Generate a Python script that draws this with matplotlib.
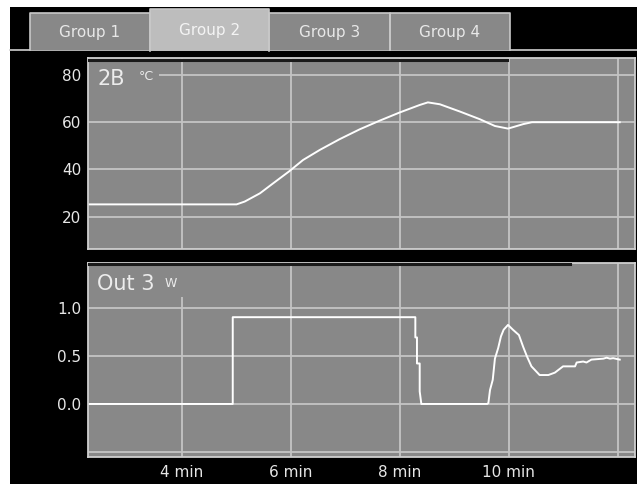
import numpy as np
import matplotlib.pyplot as plt
from matplotlib.patches import Rectangle

# Данные: температура (верхний график)
temp_time = [2.29, 5.01, 5.16, 5.44, 5.68, 5.97, 6.23, 6.54, 6.90, 7.27, 7.64, 8.00,
             8.37, 8.52, 8.74, 9.11, 9.47, 9.75, 9.99, 10.08, 10.27, 10.43, 12.04]
temp_vals = [25.2, 25.2, 26.4, 29.9, 34.1, 39.1, 44.0, 48.3, 52.8, 57.0, 60.7, 64.1,
             67.3, 68.4, 67.6, 64.5, 61.3, 58.4, 57.3, 57.9, 59.2, 60.0, 60.0]

# Данные: выход (нижний график)
out_time = [2.29, 4.94, 4.94, 8.29, 8.29, 8.32, 8.32, 8.37, 8.37, 8.40, 9.61,
            9.63, 9.66, 9.71, 9.75, 9.81, 9.86, 9.91, 9.99, 10.08, 10.19, 10.27,
            10.34, 10.42, 10.57, 10.73, 10.85, 11.00, 11.06, 11.22, 11.25, 11.37,
            11.43, 11.52, 11.74, 11.80, 11.86, 11.92, 12.04]
out_vals = [0.0, 0.0, 0.90, 0.90, 0.69, 0.69, 0.42, 0.42, 0.13, 0.0, 0.0,
            0.01, 0.145, 0.25, 0.47, 0.58, 0.70, 0.77, 0.82, 0.77, 0.715, 0.59,
            0.49, 0.39, 0.30, 0.30, 0.325, 0.39, 0.39, 0.39, 0.43, 0.44,
            0.43, 0.46, 0.47, 0.48, 0.47, 0.475, 0.46]

tab_names = ['Group 1', 'Group 2', 'Group 3', 'Group 4']
x_ticks = [4, 6, 8, 10, 12]
x_labels = ['4 min', '6 min', '8 min', '10 min', '']
top_ticks = [20, 40, 60, 80]
bot_ticks = [-0.5, 0.0, 0.5, 1.0]
bot_labels = ['', '0.0', '0.5', '1.0']

W, H = 637, 484
plt.rcParams['font.family'] = ['DejaVu Sans']
fig = plt.figure(figsize=(W / 100, H / 100), dpi=100, facecolor='white')

# Фон и вкладки (в пикселях)
bg = fig.add_axes([0, 0, 1, 1], zorder=0)
bg.set_xlim(0, W)
bg.set_ylim(H, 0)
bg.axis('off')
bg.add_patch(Rectangle((10, 7), W - 10, H - 7, facecolor='black', edgecolor='none'))
bg.plot([10, W], [50, 50], color='#d0d0d0', lw=1.2)

tab_edges = [30, 150, 269, 390, 510]
for i, name in enumerate(tab_names):
    x0, x1 = tab_edges[i], tab_edges[i + 1]
    selected = (i == 1)
    top = 9 if selected else 13
    bottom = 51 if selected else 50
    bg.add_patch(Rectangle((x0, top), x1 - x0, bottom - top,
                           facecolor='#bdbdbd' if selected else '#888888',
                           edgecolor='none', zorder=2))
    bg.plot([x0, x0, x1, x1], [bottom, top, top, bottom], color='#c8c8c8', lw=1.2, zorder=3)
    bg.text((x0 + x1) / 2, (top + 50) / 2 + 1, name, ha='center', va='center',
            fontsize=11, color='#e8e8e8' if not selected else '#f4f4f4', zorder=4)

AX_L, AX_R = 88.3, 635


def px_axes(top, bottom):
    return fig.add_axes([AX_L / W, 1 - bottom / H, (AX_R - AX_L) / W, (bottom - top) / H], zorder=1)


ax1 = px_axes(58, 249)
ax2 = px_axes(262.7, 457)

for ax in (ax1, ax2):
    ax.set_facecolor('#888888')
    for s in ax.spines.values():
        s.set_color('#cfcfcf')
        s.set_linewidth(1.3)
        s.set_zorder(5)
    ax.grid(True, color='#c4c4c4', linewidth=1.3)
    ax.set_axisbelow(True)
    ax.tick_params(length=0, colors='#e6e6e6', labelsize=11)
    ax.set_xlim(2.29, 12.32)
    ax.set_xticks(x_ticks)

ax1.set_ylim(6.3, 87.2)
ax1.set_yticks(top_ticks)
ax1.set_xticklabels([])
ax1.tick_params(axis='y', pad=5)
ax1.plot(temp_time, temp_vals, color='white', lw=1.4)

ax2.set_ylim(-0.55, 1.465)
ax2.set_yticks(bot_ticks)
ax2.set_yticklabels(bot_labels)
ax2.set_xticklabels(x_labels)
ax2.tick_params(axis='y', pad=5)
ax2.tick_params(axis='x', pad=6)
ax2.plot(out_time, out_vals, color='white', lw=1.4)

# Тёмная полоса сверху (индикатор)
ax1.plot([0, 0.766], [0.992, 0.992], transform=ax1.transAxes, color='#1a1a1a', lw=2.2, zorder=6)
ax2.plot([0, 0.882], [0.992, 0.992], transform=ax2.transAxes, color='#1a1a1a', lw=2.2, zorder=6)


def label_block(ax, top, right, bottom, height_px):
    # серый фон под подписью канала (перекрывает сетку)
    w = (right - AX_L) / (AX_R - AX_L)
    y0 = 1 - (bottom - top) / height_px
    y1 = 1 - 2 / height_px
    ax.add_patch(Rectangle((0.0, y0), w, y1 - y0, transform=ax.transAxes,
                           facecolor='#888888', edgecolor='none', zorder=4))


label_block(ax1, 58, 159, 90, 191)
label_block(ax2, 262.7, 184, 297, 194.3)

ax1.text(0.016, 0.94, '2B', transform=ax1.transAxes, fontsize=15, color='#ececec',
         va='top', ha='left', zorder=6)
ax1.text(0.093, 0.905, '°C', transform=ax1.transAxes, fontsize=9, color='#ececec',
         va='center', ha='left', zorder=6)
ax2.text(0.016, 0.94, 'Out 3', transform=ax2.transAxes, fontsize=15, color='#ececec',
         va='top', ha='left', zorder=6)
ax2.text(0.140, 0.895, 'W', transform=ax2.transAxes, fontsize=9, color='#ececec',
         va='center', ha='left', zorder=6)

fig.savefig('out.png', dpi=100, facecolor='white')
